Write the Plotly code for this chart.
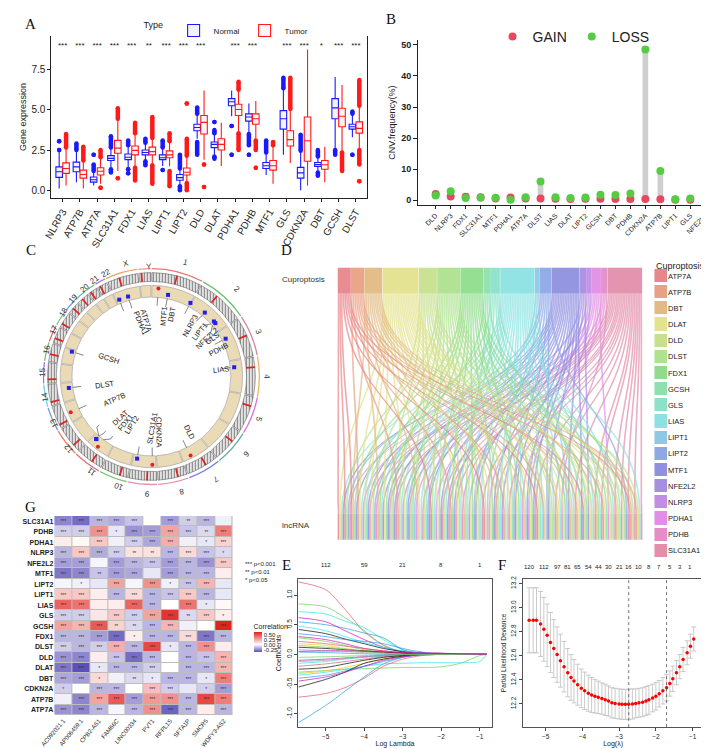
import math
import plotly.graph_objects as go

W, H = 709, 749


def fx(px):
    return px / W


def fy(py):
    return 1 - py / H


def rgba(hex_color, alpha):
    h = hex_color.lstrip("#")
    return "rgba({},{},{},{})".format(int(h[0:2], 16), int(h[2:4], 16), int(h[4:6], 16), alpha)


# ---------------- A: expression of cuproptosis genes, normal vs tumor
genes_a = ["NLRP3", "ATP7B", "ATP7A", "SLC31A1", "FDX1", "LIAS", "LIPT1", "LIPT2", "DLD", "DLAT",
           "PDHA1", "PDHB", "MTF1", "GLS", "CDKN2A", "DBT", "GCSH", "DLST"]
sig_a = ["***", "***", "***", "***", "***", "**", "***", "***", "***", "", "***", "***", "", "***",
         "***", "*", "***", "***"]

norm_lf = [0.1, 0.5, 0.3, 1.4, 1.4, 1.9, 1.5, 0.3, 3.2, 2.2, 4.6, 3.6, 0.95, 2.2, 0.0, 1.2, 2.6, 3.3]
norm_q1 = [0.8, 1.15, 0.5, 1.85, 1.9, 2.2, 1.9, 0.62, 3.7, 2.65, 5.25, 4.3, 1.35, 3.8, 0.75, 1.48, 4.45, 3.8]
norm_med = [1.15, 1.45, 0.65, 1.98, 2.05, 2.35, 2.02, 0.78, 3.9, 2.85, 5.5, 4.55, 1.52, 4.45, 1.08, 1.6, 5.12, 3.95]
norm_q3 = [1.45, 1.75, 0.82, 2.15, 2.25, 2.5, 2.2, 0.98, 4.1, 3.0, 5.7, 4.75, 1.72, 4.95, 1.42, 1.72, 5.7, 4.1]
norm_uf = [2.4, 2.4, 1.1, 2.6, 2.75, 2.9, 2.6, 1.3, 4.7, 3.5, 6.2, 5.4, 2.3, 6.3, 2.4, 2.05, 7.05, 4.7]

tum_lf = [0.3, 0.1, 0.4, 1.2, 1.5, 1.6, 1.5, 0.5, 1.9, 1.5, 3.6, 3.2, 0.4, 1.7, 0.3, 0.5, 2.4, 2.6]
tum_q1 = [1.05, 0.75, 0.95, 2.3, 2.2, 2.2, 2.02, 0.95, 3.5, 2.5, 4.65, 4.1, 1.25, 2.75, 1.8, 1.3, 3.95, 3.55]
tum_med = [1.35, 0.98, 1.18, 2.62, 2.48, 2.4, 2.2, 1.12, 4.22, 2.85, 5.02, 4.45, 1.52, 3.15, 3.08, 1.58, 4.6, 3.85]
tum_q3 = [1.7, 1.25, 1.4, 3.1, 2.75, 2.68, 2.45, 1.38, 4.65, 3.2, 5.35, 4.75, 1.85, 3.7, 4.55, 1.85, 5.1, 4.25]
tum_uf = [2.6, 1.8, 2.0, 4.4, 3.5, 3.2, 3.0, 2.1, 6.2, 4.2, 6.2, 5.55, 2.75, 5.0, 8.75, 2.7, 6.55, 5.2]

# outliers as (low, high) runs of dots; a single dot when low == high
norm_out = [
    [(2.5, 2.5), (3.05, 3.05)], [(2.5, 2.9)], [(1.2, 1.6), (2.2, 2.2)], [(2.65, 3.35), (1.1, 1.3)],
    [(2.8, 3.1), (1.05, 1.05), (1.3, 1.3)], [(2.95, 3.2), (1.55, 1.8)], [(2.65, 3.1), (1.25, 1.25)],
    [(1.35, 2.2), (0.0, 0.25)], [(4.75, 5.15), (2.2, 3.0)], [(3.55, 3.75), (4.25, 4.25), (1.95, 2.1)],
    [(4.0, 4.0), (2.2, 2.2)], [(2.8, 3.5), (2.2, 2.2)], [(2.35, 3.1)], [(6.35, 7.0)], [(2.45, 3.45)],
    [(2.1, 2.5), (0.9, 1.1)], [(2.2, 2.5)], [(4.75, 4.9), (2.2, 2.2)],
]
tum_out = [
    [(2.65, 3.5)], [(1.85, 2.7)], [(2.05, 2.5), (0.15, 0.15)], [(4.45, 5.1), (0.75, 0.75)],
    [(3.55, 4.2), (0.6, 1.4)], [(3.25, 4.55), (0.4, 1.55)], [(3.05, 3.55), (0.25, 1.2)],
    [(2.15, 3.2), (5.4, 5.4), (0.0, 0.45)], [(1.6, 1.6), (0.2, 0.2)], [],
    [(6.25, 6.75), (2.5, 3.55)], [(2.5, 3.1), (1.4, 1.4)], [(2.8, 3.0)], [(5.05, 7.0)], [], [],
    [(1.2, 2.35)], [(5.25, 6.85), (0.55, 0.55), (1.6, 2.5)],
]

# ---------------- B: CNV frequency
genes_b = ["DLD", "NLRP3", "FDX1", "SLC31A1", "MTF1", "PDHA1", "ATP7A", "DLST", "LIAS", "DLAT",
           "LIPT2", "GCSH", "DBT", "PDHB", "CDKN2A", "ATP7B", "LIPT1", "GLS", "NFE2L2"]
cnv_gain = [2.0, 1.2, 1.1, 1.0, 0.6, 0.9, 0.6, 0.6, 0.5, 0.4, 0.5, 0.5, 0.4, 0.4, 0.4, 0.3, 0.2, 0.2, 0.2]
cnv_loss = [1.5, 2.9, 0.7, 0.8, 0.8, 0.2, 1.0, 6.0, 1.0, 0.7, 0.9, 1.8, 1.7, 2.2, 48.5, 9.4, 0.3, 0.6, 0.8]

# ---------------- C: chromosome locations (hg19, Mb)
chroms = [str(i) for i in range(1, 23)] + ["X", "Y"]
chrom_len = [249.3, 243.2, 198.0, 191.2, 180.9, 171.1, 159.1, 146.4, 141.2, 135.5, 135.0, 133.9,
             115.2, 107.3, 102.5, 90.4, 81.2, 78.1, 59.1, 63.0, 48.1, 51.3, 155.3, 59.4]
centromere_mb = [125.0, 93.3, 91.0, 50.4, 48.4, 61.0, 59.9, 45.6, 49.0, 40.2, 53.7, 35.8, 17.9, 17.6,
                 19.0, 36.6, 24.0, 17.2, 26.5, 27.5, 13.2, 14.7, 60.6, 12.5]
chrom_colors = ["#e8787a", "#6fbf73", "#d3869b", "#f0b060", "#e070e0", "#5fb0a0", "#6f7fe0", "#e88aa0",
                "#e090b0", "#70c070", "#e07080", "#f08060", "#7090e0", "#70d0e0", "#b070e0", "#70c070",
                "#e06060", "#80c080", "#70a0e0", "#60c0b0", "#70c070", "#a070e0", "#f0a060", "#e0a0a0"]
genes_c = ["MTF1", "DBT", "NLRP3", "LIPT1", "NFE2L2", "GLS", "PDHB", "LIAS", "DLD", "CDKN2A", "SLC31A1",
           "LIPT2", "FDX1", "DLAT", "ATP7B", "DLST", "GCSH", "PDHA1", "ATP7A"]
gene_chr = ["1", "1", "1", "2", "2", "2", "3", "4", "7", "9", "9", "11", "11", "11", "13", "14", "16", "X", "X"]
gene_mb = [38.3, 100.7, 247.6, 99.8, 178.1, 191.7, 58.4, 39.5, 107.5, 21.9, 115.9, 74.2, 110.3, 111.9,
           52.5, 75.3, 81.1, 19.4, 77.2]
gene_cnv = ["gain", "loss", "loss", "loss", "loss", "loss", "loss", "loss", "gain", "gain", "loss",
            "gain", "loss", "loss", "gain", "loss", "loss", "loss", "loss"]

# ---------------- D: cuproptosis gene -> lncRNA co-expression links
cup_genes = ["ATP7A", "ATP7B", "DBT", "DLAT", "DLD", "DLST", "FDX1", "GCSH", "GLS", "LIAS", "LIPT1",
             "LIPT2", "MTF1", "NFE2L2", "NLRP3", "PDHA1", "PDHB", "SLC31A1"]
cup_colors = ["#E8868B", "#E8A185", "#E2BA84", "#E3E28E", "#C6E08E", "#AEE28E", "#8FDD8C", "#8EE0AE",
              "#8CE2C8", "#8CE2E2", "#8EC8E6", "#8EA8E6", "#8E90E0", "#A68EE0", "#C08EE6", "#E38EE6",
              "#E38EC8", "#E38EAA"]
cup_targets = [
    [0, 1, 2, 14, 22, 30, 37, 44],
    [3, 9, 17, 25, 31, 36, 40, 45],
    [2, 6, 12, 19, 24, 28, 33, 35, 39, 42, 44],
    [0, 3, 5, 7, 10, 12, 15, 18, 20, 21, 23, 26, 27, 29, 31, 33, 34, 36, 38, 40, 41, 43],
    [4, 8, 13, 16, 22, 25, 30, 32, 37, 42, 45],
    [1, 5, 9, 11, 14, 18, 21, 24, 28, 32, 35, 38, 41, 44],
    [2, 6, 8, 11, 15, 17, 20, 23, 27, 29, 34, 37, 39, 43],
    [7, 19, 26, 40],
    [4, 13, 18, 30, 36, 42],
    [0, 3, 6, 9, 10, 12, 14, 16, 19, 21, 24, 25, 27, 30, 32, 33, 35, 38, 39, 41, 45],
    [11, 22, 34],
    [1, 5, 13, 20, 26, 31, 43],
    [0, 2, 4, 7, 8, 10, 13, 15, 17, 20, 23, 26, 28, 29, 31, 34, 36],
    [6, 16, 24, 37],
    [9, 19, 28],
    [3, 11, 14, 22, 27, 40],
    [5, 12, 18, 33],
    [1, 4, 7, 8, 10, 15, 16, 17, 21, 23, 25, 29, 32, 35, 38, 39, 41, 42, 43, 44, 45],
]

# ---------------- G: correlation heatmap
rows_g = ["SLC31A1", "PDHB", "PDHA1", "NLRP3", "NFE2L2", "MTF1", "LIPT2", "LIPT1", "LIAS", "GLS",
          "GCSH", "FDX1", "DLST", "DLD", "DLAT", "DBT", "CDKN2A", "ATP7B", "ATP7A"]
cols_g = ["AC092021.1", "AP006459.1", "CPB2-AS1", "FAM66C", "LINC00334", "PVT1", "RFPL1S", "SFTA1P",
          "SMCR5", "WDFY3-AS2"]
corr_g = [
    [-0.25, -0.30, -0.15, -0.17, -0.12, 0.00, -0.20, -0.10, -0.15, -0.03],
    [-0.10, -0.10, 0.30, -0.05, -0.22, -0.20, 0.25, -0.12, -0.08, 0.35],
    [0.05, 0.02, 0.15, -0.03, -0.10, -0.18, 0.22, -0.03, -0.05, 0.12],
    [-0.15, 0.15, -0.17, -0.10, 0.08, 0.08, -0.15, 0.10, -0.12, -0.08],
    [-0.20, -0.20, -0.02, -0.20, -0.15, -0.12, -0.20, -0.15, -0.22, 0.15],
    [-0.28, -0.25, -0.12, -0.20, -0.18, -0.05, -0.20, -0.15, -0.15, 0.05],
    [-0.02, -0.03, -0.05, 0.25, -0.02, 0.30, -0.03, -0.12, 0.20, -0.05],
    [0.15, 0.15, 0.05, -0.15, 0.10, -0.15, -0.12, 0.15, -0.15, -0.05],
    [0.42, 0.38, 0.05, 0.05, 0.42, -0.15, 0.00, 0.38, -0.05, 0.02],
    [-0.10, -0.10, 0.07, 0.15, -0.10, 0.25, 0.55, -0.08, 0.15, 0.05],
    [0.25, 0.20, 0.45, 0.12, -0.08, -0.15, 0.20, -0.03, 0.00, 0.60],
    [-0.15, -0.15, -0.20, -0.30, 0.05, -0.15, -0.15, 0.10, -0.28, -0.15],
    [-0.10, -0.15, -0.10, 0.22, -0.15, 0.50, -0.05, -0.15, 0.30, 0.05],
    [-0.22, -0.25, 0.05, -0.12, -0.30, -0.15, 0.00, -0.15, -0.12, 0.20],
    [-0.28, -0.38, -0.05, -0.15, -0.15, -0.10, 0.00, -0.15, -0.15, 0.20],
    [-0.18, -0.20, 0.10, -0.03, -0.08, -0.05, -0.15, -0.15, -0.05, 0.35],
    [-0.10, 0.00, -0.15, -0.15, 0.00, 0.18, -0.10, -0.05, -0.10, -0.20],
    [-0.03, -0.25, 0.25, 0.45, -0.20, 0.28, 0.30, -0.15, 0.50, 0.35],
    [-0.22, -0.25, -0.15, -0.02, -0.15, 0.30, -0.32, -0.15, 0.05, -0.15],
]
stars_g = [
    ["***", "***", "***", "***", "***", "", "***", "**", "***", ""],
    ["***", "***", "***", "*", "***", "***", "***", "***", "**", "***"],
    ["", "", "***", "", "***", "***", "***", "", "*", "***"],
    ["***", "***", "***", "***", "**", "**", "***", "***", "***", "*"],
    ["***", "***", "", "***", "***", "***", "***", "***", "***", "***"],
    ["***", "***", "**", "***", "***", "", "***", "***", "***", ""],
    ["", "*", "", "***", "", "***", "*", "***", "***", ""],
    ["***", "***", "", "***", "***", "***", "***", "***", "***", ""],
    ["***", "***", "", "", "***", "***", "", "***", "*", ""],
    ["***", "***", "", "***", "***", "***", "***", "**", "***", "*"],
    ["***", "***", "***", "**", "**", "***", "***", "", "", "***"],
    ["***", "***", "***", "***", "*", "***", "***", "***", "***", "***"],
    ["***", "***", "***", "***", "***", "***", "*", "***", "***", ""],
    ["***", "***", "", "***", "***", "***", "", "***", "***", "***"],
    ["***", "***", "*", "***", "***", "***", "", "***", "***", "***"],
    ["***", "***", "*", "", "**", "*", "***", "***", "*", "***"],
    ["*", "", "***", "***", "", "***", "***", "", "*", "***"],
    ["", "***", "***", "***", "***", "***", "***", "***", "***", "***"],
    ["***", "***", "***", "", "***", "***", "***", "***", "", "***"],
]

# ---------------- E: LASSO coefficient paths
lasso_lambda = [-5.71, -5.0, -4.5, -4.0, -3.5, -3.0, -2.5, -2.0, -1.5, -1.0, -0.82]
lasso_df_pos = [-5, -4, -3, -2, -1]
lasso_df = [112, 59, 21, 8, 1]
lasso_colors = ["#DF536B", "#61D04F", "#28E2E5", "#2297E6", "#CD0BBC", "#000000", "#28E2E5", "#2297E6",
                "#CD0BBC", "#61D04F", "#DF536B", "#F5C710", "#000000", "#9E9E9E", "#2297E6", "#61D04F",
                "#CD0BBC", "#28E2E5", "#DF536B", "#000000", "#61D04F", "#28E2E5", "#2297E6", "#F5C710",
                "#000000", "#DF536B", "#2297E6", "#CD0BBC", "#9E9E9E", "#61D04F", "#CD0BBC"]
lasso_paths = [
    [1.22, 1.09, 0.76, 0.38, 0.16, 0.03, 0, 0, 0, 0, 0],
    [0.85, 0.80, 0.62, 0.40, 0.15, 0.04, 0.01, 0, 0, 0, 0],
    [0.72, 0.68, 0.56, 0.45, 0.25, 0.08, 0.02, 0, 0, 0, 0],
    [0.55, 0.50, 0.44, 0.36, 0.28, 0.08, 0, 0, 0, 0, 0],
    [0.62, 0.55, 0.40, 0.25, 0.12, 0.05, 0.03, 0.02, 0, 0, 0],
    [0.42, 0.35, 0.26, 0.18, 0.10, 0.05, 0.02, 0, 0, 0, 0],
    [0.48, 0.40, 0.30, 0.20, 0.12, 0.06, 0.02, 0, 0, 0, 0],
    [0.35, 0.30, 0.25, 0.22, 0.18, 0.10, 0.04, 0, 0, 0, 0],
    [0.30, 0.25, 0.18, 0.10, 0.06, 0.03, 0.02, 0.01, 0, 0, 0],
    [0.28, 0.22, 0.15, 0.08, 0.04, 0.02, 0, 0, 0, 0, 0],
    [0.22, 0.18, 0.14, 0.10, 0.06, 0.03, 0, 0, 0, 0, 0],
    [0.18, 0.15, 0.10, 0.06, 0.03, 0.01, 0, 0, 0, 0, 0],
    [0.12, 0.10, 0.08, 0.06, 0.04, 0.02, 0, 0, 0, 0, 0],
    [0.08, 0.06, 0.05, 0.03, 0.02, 0, 0, 0, 0, 0, 0],
    [0.04, 0.03, 0.02, 0.01, 0, 0, 0, 0, 0, 0, 0],
    [-0.05, -0.04, -0.03, -0.02, -0.01, 0, 0, 0, 0, 0, 0],
    [-0.10, -0.08, -0.06, -0.04, -0.02, 0, 0, 0, 0, 0, 0],
    [-0.15, -0.12, -0.08, -0.05, -0.03, -0.01, 0, 0, 0, 0, 0],
    [-0.20, -0.16, -0.12, -0.08, -0.04, -0.02, 0, 0, 0, 0, 0],
    [-0.25, -0.22, -0.16, -0.10, -0.05, -0.02, 0, 0, 0, 0, 0],
    [-0.30, -0.27, -0.25, -0.24, -0.23, -0.22, -0.22, -0.21, -0.15, -0.02, 0],
    [-0.35, -0.30, -0.25, -0.20, -0.16, -0.15, -0.14, -0.14, -0.14, -0.12, 0],
    [-0.40, -0.35, -0.28, -0.20, -0.12, -0.05, 0, 0, 0, 0, 0],
    [-0.32, -0.28, -0.22, -0.15, -0.08, -0.03, 0, 0, 0, 0, 0],
    [-0.55, -0.42, -0.30, -0.15, -0.08, -0.03, 0, 0, 0, 0, 0],
    [-0.72, -0.66, -0.56, -0.40, -0.20, -0.08, -0.02, 0, 0, 0, 0],
    [-1.15, -0.86, -0.62, -0.38, -0.16, -0.05, 0, 0, 0, 0, 0],
    [-0.45, -0.38, -0.30, -0.20, -0.10, -0.04, -0.01, 0, 0, 0, 0],
    [-0.12, -0.10, -0.07, -0.04, -0.02, 0, 0, 0, 0, 0, 0],
    [0.15, 0.12, 0.09, 0.05, 0.02, 0, 0, 0, 0, 0, 0],
    [0.05, 0.06, 0.06, 0.05, 0.04, 0.03, 0.02, 0.02, 0.01, 0, 0],
]

# ---------------- F: cross-validation partial likelihood deviance
cv_lambda = [-5.45, -5.34, -5.25, -5.14, -5.05, -4.96, -4.87, -4.78, -4.69, -4.60, -4.50, -4.40, -4.31,
             -4.23, -4.13, -4.03, -3.94, -3.84, -3.75, -3.66, -3.57, -3.47, -3.38, -3.29, -3.20, -3.11,
             -3.00, -2.92, -2.83, -2.74, -2.64, -2.55, -2.46, -2.36, -2.27, -2.19, -2.09, -2.00, -1.91,
             -1.81, -1.71, -1.62, -1.54, -1.44, -1.35, -1.26, -1.15, -1.06, -0.97]
cv_dev = [12.895, 12.895, 12.895, 12.865, 12.82, 12.77, 12.71, 12.66, 12.61, 12.56, 12.51, 12.46, 12.42,
          12.39, 12.36, 12.33, 12.31, 12.29, 12.275, 12.265, 12.255, 12.245, 12.235, 12.225, 12.21, 12.205,
          12.20, 12.198, 12.197, 12.197, 12.20, 12.205, 12.21, 12.215, 12.225, 12.235, 12.25, 12.265,
          12.285, 12.31, 12.335, 12.37, 12.41, 12.46, 12.51, 12.57, 12.625, 12.68, 12.74]
cv_se = [0.27, 0.27, 0.27, 0.27, 0.265, 0.26, 0.25, 0.24, 0.23, 0.22, 0.21, 0.20, 0.19, 0.18, 0.17, 0.16,
         0.155, 0.15, 0.145, 0.14, 0.135, 0.13, 0.13, 0.125, 0.125, 0.125, 0.125, 0.125, 0.125, 0.125,
         0.125, 0.12, 0.12, 0.12, 0.12, 0.12, 0.115, 0.115, 0.11, 0.11, 0.11, 0.105, 0.105, 0.10, 0.10,
         0.10, 0.10, 0.10, 0.10]
cv_nzero_pos = [-5.45, -5.05, -4.69, -4.40, -4.13, -3.84, -3.57, -3.29, -3.00, -2.74, -2.46, -2.19, -1.91,
                -1.62, -1.35, -1.06]
cv_nzero = [120, 112, 97, 81, 65, 54, 44, 30, 21, 16, 10, 8, 7, 5, 3, 1]
lambda_min = -2.74
lambda_1se = -1.71

FONT = "Liberation Sans"
SERIF = "Liberation Serif"

fig = go.Figure()

# ======================= A
for name, offs, lf, q1, med, q3, uf, outs, col in [
        ("Normal", -0.2, norm_lf, norm_q1, norm_med, norm_q3, norm_uf, norm_out, "#1a1aff"),
        ("Tumor", 0.2, tum_lf, tum_q1, tum_med, tum_q3, tum_uf, tum_out, "#ff1a1a")]:
    xs = [i + offs for i in range(len(genes_a))]
    fig.add_trace(go.Box(
        x=xs, q1=q1, median=med, q3=q3, lowerfence=lf, upperfence=uf, name=name,
        width=0.38, whiskerwidth=0, boxpoints=False, line=dict(color=col, width=1.1),
        fillcolor=rgba(col, 0.05), xaxis="x", yaxis="y", legend="legend", hoverinfo="skip"))
    lx, ly, mx, my = [], [], [], []
    for x, segs in zip(xs, outs):
        for lo, hi in segs:
            mx += [x, x]
            my += [lo, hi]
            if hi > lo:
                lx += [x, x, None]
                ly += [lo, hi, None]
    fig.add_trace(go.Scatter(x=lx, y=ly, mode="lines", line=dict(color=col, width=4.5),
                             showlegend=False, xaxis="x", yaxis="y", hoverinfo="skip"))
    fig.add_trace(go.Scatter(x=mx, y=my, mode="markers", marker=dict(color=col, size=4.5),
                             showlegend=False, xaxis="x", yaxis="y", hoverinfo="skip"))

fig.add_trace(go.Scatter(x=list(range(len(genes_a))), y=[9.0] * len(genes_a), text=sig_a, mode="text",
                         textfont=dict(size=8, color="#222"), showlegend=False, xaxis="x", yaxis="y"))

# ======================= B
idx_b = list(range(len(genes_b)))
fig.add_trace(go.Bar(x=idx_b, y=[abs(g - l) for g, l in zip(cnv_gain, cnv_loss)],
                     base=[min(g, l) for g, l in zip(cnv_gain, cnv_loss)], width=0.38,
                     marker=dict(color="#cfcfcf", line=dict(width=0)), showlegend=False,
                     xaxis="x2", yaxis="y2", hoverinfo="skip"))
fig.add_trace(go.Scatter(x=idx_b, y=cnv_gain, mode="markers", name="GAIN",
                         marker=dict(color="#E5485F", size=8), xaxis="x2", yaxis="y2", legend="legend2"))
fig.add_trace(go.Scatter(x=idx_b, y=cnv_loss, mode="markers", name="LOSS",
                         marker=dict(color="#55CC44", size=8), xaxis="x2", yaxis="y2", legend="legend2"))

# ======================= C  (circos-like ring)
C_CX, C_CY, C_R = 132, 367, 125
GAP = 0.6
deg_per_mb = (360 - GAP * len(chroms)) / sum(chrom_len)
chr_start = {}
acc = GAP / 2
for c, L in zip(chroms, chrom_len):
    chr_start[c] = acc
    acc += L * deg_per_mb + GAP
chr_mid = [chr_start[c] + L * deg_per_mb / 2 for c, L in zip(chroms, chrom_len)]
chr_width = [L * deg_per_mb for L in chrom_len]
n_chr = len(chroms)

fig.add_trace(go.Barpolar(theta=chr_mid, width=chr_width, r=[12] * n_chr, base=[81] * n_chr,
                          marker=dict(color="#ebdab6", line=dict(color="#9a9a9a", width=0.6)),
                          subplot="polar", showlegend=False, hoverinfo="skip"))
fig.add_trace(go.Barpolar(theta=chr_mid, width=chr_width, r=[9] * n_chr, base=[97] * n_chr,
                          marker=dict(color="#d8d8d8", line=dict(color="#555", width=0.5),
                                      pattern=dict(shape="|", fgcolor="#1e1e1e", bgcolor="#ececec",
                                                   size=3, solidity=0.4)),
                          subplot="polar", showlegend=False, hoverinfo="skip"))
fig.add_trace(go.Barpolar(theta=[chr_start[c] + m * deg_per_mb for c, m in zip(chroms, centromere_mb)],
                          width=[1.0] * n_chr, r=[9] * n_chr, base=[97] * n_chr,
                          marker=dict(color="#e02424", line=dict(width=0)),
                          subplot="polar", showlegend=False, hoverinfo="skip"))
fig.add_trace(go.Barpolar(theta=chr_mid, width=chr_width, r=[1.3] * n_chr, base=[109.5] * n_chr,
                          marker=dict(color=chrom_colors, line=dict(width=0)),
                          subplot="polar", showlegend=False, hoverinfo="skip"))


def polar_px(r, theta):
    t = math.radians(theta)
    return C_CX + r * math.sin(t), C_CY - r * math.cos(t)


def spread(angles, gap):
    order = sorted(range(len(angles)), key=lambda i: angles[i])
    a = [angles[i] for i in order]
    for _ in range(200):
        for k in range(1, len(a)):
            d = a[k] - a[k - 1]
            if d < gap:
                a[k - 1] -= (gap - d) / 2
                a[k] += (gap - d) / 2
    out = [0.0] * len(angles)
    for k, i in enumerate(order):
        out[i] = a[k]
    return out


gene_theta = [chr_start[c] + m * deg_per_mb for c, m in zip(gene_chr, gene_mb)]
label_theta = spread(gene_theta, 7.0)

conn_r, conn_t = [], []
for gt, lt in zip(gene_theta, label_theta):
    conn_r += [81, 76, 72.5, None]
    conn_t += [gt, lt, lt, None]
fig.add_trace(go.Scatterpolar(r=conn_r, theta=conn_t, mode="lines", line=dict(color="#333", width=0.6),
                              subplot="polar", showlegend=False, hoverinfo="skip"))
for kind, col, sym, rr in [("loss", "#2020e8", "square", 85), ("gain", "#e82020", "circle", 90)]:
    th = [t for t, k in zip(gene_theta, gene_cnv) if k == kind]
    fig.add_trace(go.Scatterpolar(r=[rr] * len(th), theta=th, mode="markers",
                                  marker=dict(color=col, size=4, symbol=sym),
                                  subplot="polar", showlegend=False, hoverinfo="skip"))

for name, lt in zip(genes_c, label_theta):
    rc = 71 - 2.6 * len(name)
    px, py = polar_px(rc, lt)
    ang = lt - 90 if lt < 180 else lt - 270
    fig.add_annotation(x=fx(px), y=fy(py), xref="paper", yref="paper", text=name, showarrow=False,
                       textangle=ang, font=dict(family=FONT, size=7.5, color="#222"))

for c, m in zip(chroms, chr_mid):
    px, py = polar_px(118, m)
    ang = m if m <= 180 else m - 360
    fig.add_annotation(x=fx(px), y=fy(py), xref="paper", yref="paper", text=c, showarrow=False,
                       textangle=ang, font=dict(family=FONT, size=8, color="#333"))

# ======================= D  (alluvial, flowing top -> bottom)
D_X0, D_X1, D_Y0, D_Y1 = 322, 628, 258, 535
D_W, D_H = D_X1 - D_X0, D_Y1 - D_Y0
D_THICK = 26
pairs = sorted((t, g) for g, ts in enumerate(cup_targets) for t in ts)
total = len(pairs)
counts = [len(ts) for ts in cup_targets]
top_frac = []
cum = 0
for n in counts:
    top_frac.append((cum + n / 2) / total)
    cum += n
bot_frac = [(j + 0.5) / total for j in range(total)]
n_top = len(cup_genes)
# plotly scales forced node positions by (width, height) even in vertical mode
node_x = [(D_THICK / 2) / D_W] * n_top + [(D_H - D_THICK / 2) / D_W] * total
node_y = [f * D_W / D_H for f in top_frac + bot_frac]
node_col = [rgba(c, 0.95) for c in cup_colors] + [rgba(cup_colors[g], 0.85) for _, g in pairs]
fig.add_trace(go.Sankey(
    domain=dict(x=[fx(D_X0), fx(D_X1)], y=[fy(D_Y1), fy(D_Y0)]),
    orientation="v", arrangement="fixed",
    node=dict(pad=0, thickness=D_THICK, label=[""] * (n_top + total), color=node_col,
              x=node_x, y=node_y, line=dict(width=0)),
    link=dict(source=[g for _, g in pairs], target=[n_top + j for j in range(total)],
              value=[1] * total, color=[rgba(cup_colors[g], 0.7) for _, g in pairs]),
    hoverinfo="none"))

# legend of D drawn as a one-column heatmap
fig.add_trace(go.Heatmap(z=[[i] for i in range(n_top)], y=cup_genes, x=[0], zmin=0, zmax=n_top - 1,
                         colorscale=[[i / (n_top - 1), c] for i, c in enumerate(cup_colors)],
                         showscale=False, ygap=3, xaxis="x3", yaxis="y3", hoverinfo="skip"))

# ======================= G
fig.add_trace(go.Heatmap(z=corr_g, x=cols_g, y=rows_g, text=stars_g, texttemplate="%{text}",
                         textfont=dict(size=5, color="#333"), zmin=-0.36, zmax=0.6, xgap=1, ygap=1,
                         colorscale=[[0, "#5b4fb8"], [0.375, "#ffffff"], [1, "#e3221c"]],
                         colorbar=dict(x=fx(226), xanchor="left", y=fy(628), yanchor="middle",
                                       lenmode="pixels", len=52, thickness=8, outlinewidth=0,
                                       tickvals=[-0.25, 0, 0.25, 0.5],
                                       ticktext=["-0.25", "0.00", "0.25", "0.50"],
                                       tickfont=dict(size=6, family=FONT), ticks="",
                                       title=dict(text="Correlation", side="top",
                                                  font=dict(size=7, family=FONT))),
                         xaxis="x4", yaxis="y4", hoverinfo="skip"))

# ======================= E
for col, vals in zip(lasso_colors, lasso_paths):
    fig.add_trace(go.Scatter(x=lasso_lambda, y=vals, mode="lines",
                             line=dict(color=col, width=0.8, shape="spline", smoothing=0.8),
                             opacity=0.85, showlegend=False, xaxis="x5", yaxis="y5", hoverinfo="skip"))
for pos, n in zip(lasso_df_pos, lasso_df):
    fig.add_annotation(x=pos, y=fy(561), xref="x5", yref="paper", text=str(n), showarrow=False,
                       font=dict(size=6, family=FONT, color="#222"))

# ======================= F
fig.add_trace(go.Scatter(x=cv_lambda, y=cv_dev, mode="markers",
                         error_y=dict(type="data", array=cv_se, color="#bdbdbd", thickness=0.8, width=2.5),
                         marker=dict(color="#ff0000", size=3.5), showlegend=False,
                         xaxis="x6", yaxis="y6", hoverinfo="skip"))
for xv in (lambda_min, lambda_1se):
    fig.add_shape(type="line", xref="x6", yref="y6 domain", x0=xv, x1=xv, y0=0, y1=1,
                  line=dict(color="#555", width=0.8, dash="dot"))
for pos, n in zip(cv_nzero_pos, cv_nzero):
    fig.add_annotation(x=pos, y=fy(563), xref="x6", yref="paper", text=str(n), showarrow=False,
                       font=dict(size=6, family=FONT, color="#222"))

# heatmap G cell borders
fig.add_shape(type="rect", xref="x4", yref="y4", x0=-0.5, x1=len(cols_g) - 0.5, y0=-0.5,
              y1=len(rows_g) - 0.5, fillcolor="#bdbdbd", line=dict(width=0), layer="below")

# ---------------- annotations: panel letters and free labels
for letter, px, py in [("A", 9, 13), ("B", 376, 8), ("C", 9, 240), ("D", 270, 240), ("G", 9, 498),
                       ("E", 270, 556), ("F", 490, 556)]:
    fig.add_annotation(x=fx(px), y=fy(py), xref="paper", yref="paper", text=letter, showarrow=False,
                       xanchor="center", yanchor="middle", font=dict(family=SERIF, size=15, color="#111"))
fig.add_annotation(x=fx(263), y=fy(270), xref="paper", yref="paper", text="Cuproptosis", showarrow=False,
                   xanchor="left", font=dict(family=FONT, size=8, color="#333"))
fig.add_annotation(x=fx(263), y=fy(523), xref="paper", yref="paper", text="lncRNA", showarrow=False,
                   xanchor="left", font=dict(family=FONT, size=8, color="#333"))
fig.add_annotation(x=fx(645), y=fy(249), xref="paper", yref="paper", text="Cuproptosis", showarrow=False,
                   xanchor="left", font=dict(family=FONT, size=9, color="#222"))
fig.add_annotation(x=fx(225), y=fy(576), xref="paper", yref="paper",
                   text="*** p<0.001<br>** p<0.01<br>* p<0.05", showarrow=False, align="left",
                   xanchor="left", font=dict(family=FONT, size=6, color="#222"))

axis_common = dict(showgrid=False, zeroline=False, linecolor="#222", tickcolor="#222")
r_frame = dict(showline=True, mirror=True, linecolor="#555", ticks="outside", ticklen=3, tickwidth=0.8,
               showgrid=False, zeroline=False, tickfont=dict(family=FONT, size=6.5, color="#222"))

fig.update_layout(
    width=W, height=H, margin=dict(l=0, r=0, t=0, b=0),
    paper_bgcolor="white", plot_bgcolor="white",
    font=dict(family=FONT, color="#222"),
    showlegend=True,
    legend=dict(title=dict(text="Type ", side="left", font=dict(size=9)), orientation="h",
                x=fx(122), y=fy(5), xanchor="left", yanchor="top", font=dict(size=8),
                bgcolor="rgba(0,0,0,0)", itemwidth=30),
    legend2=dict(orientation="h", x=fx(480), y=fy(26), xanchor="left", yanchor="middle",
                 font=dict(size=14), bgcolor="rgba(0,0,0,0)"),
    xaxis=dict(domain=[fx(30), fx(352)], range=[-0.65, 17.65], tickvals=list(range(len(genes_a))),
               ticktext=genes_a, tickangle=-60, showline=True, ticks="outside", ticklen=3,
               anchor="y", tickfont=dict(family=FONT, size=10, color="#222"), **axis_common),
    yaxis=dict(domain=[fy(188), fy(25)], range=[-0.5, 9.6], tickvals=[0, 2.5, 5, 7.5],
               ticktext=["0.0", "2.5", "5.0", "7.5"], showline=True, mirror=True, ticks="outside",
               ticklen=3, anchor="x", title=dict(text="Gene expression", font=dict(size=9), standoff=3),
               tickfont=dict(family=FONT, size=10, color="#222"), **axis_common),
    xaxis2=dict(domain=[fx(404), fx(705)], range=[-1.18, 18.52], tickvals=idx_b, ticktext=genes_b,
                tickangle=-45, showline=True, ticks="outside", ticklen=3, anchor="y2",
                tickfont=dict(family=FONT, size=7, color="#222"), **axis_common),
    yaxis2=dict(domain=[fy(194.7), fy(29.3)], range=[-1.5, 51.5], tickvals=[0, 10, 20, 30, 40, 50],
                showline=True, ticks="outside", ticklen=4, anchor="x2",
                title=dict(text="CNV.frequency(%)", font=dict(size=9), standoff=4),
                tickfont=dict(family=FONT, size=9, color="#222", weight="bold"), **axis_common),
    xaxis3=dict(domain=[fx(645), fx(658)], visible=False, anchor="y3"),
    yaxis3=dict(domain=[fy(550), fy(258)], autorange="reversed", side="right", anchor="x3", ticks="",
                showline=False, tickfont=dict(family=FONT, size=7.5, color="#222"), **axis_common),
    xaxis4=dict(domain=[fx(33), fx(215)], tickangle=-50, anchor="y4", ticks="", showline=False,
                tickfont=dict(family=FONT, size=6, color="#222"), **axis_common),
    yaxis4=dict(domain=[fy(707), fy(507)], autorange="reversed", anchor="x4", ticks="", showline=False,
                tickfont=dict(family=FONT, size=7, color="#222", weight="bold"), **axis_common),
    xaxis5=dict(domain=[fx(282), fx(479)], range=[-5.71, -0.69], tickvals=lasso_df_pos, anchor="y5",
                title=dict(text="Log Lambda", font=dict(size=7), standoff=1), **r_frame),
    yaxis5=dict(domain=[fy(719), fy(570)], range=[-1.225, 1.275], tickvals=[-1, -0.5, 0, 0.5, 1],
                ticktext=["-1.0", "-0.5", "0.0", "0.5", "1.0"], tickangle=-90, anchor="x5",
                title=dict(text="Coefficients", font=dict(size=7), standoff=3), **r_frame),
    xaxis6=dict(domain=[fx(511), fx(695)], range=[-5.62, -0.71], tickvals=[-5, -4, -3, -2, -1],
                anchor="y6", title=dict(text="Log(\u03bb)", font=dict(size=7), standoff=1), **r_frame),
    yaxis6=dict(domain=[fy(719), fy(570)], range=[12.008, 13.24], tickvals=[12.2, 12.4, 12.6, 12.8, 13.0, 13.2],
                ticktext=["12.2", "12.4", "12.6", "12.8", "13.0", "13.2"], tickangle=-90, anchor="x6",
                title=dict(text="Partial Likelihood Deviance", font=dict(size=6.5), standoff=3), **r_frame),
    polar=dict(domain=dict(x=[fx(C_CX - C_R), fx(C_CX + C_R)], y=[fy(C_CY + C_R), fy(C_CY - C_R)]),
               bgcolor="rgba(0,0,0,0)", barmode="overlay", hole=0,
               radialaxis=dict(range=[0, C_R], visible=False),
               angularaxis=dict(rotation=90, direction="clockwise", visible=False)),
)

fig.write_html("out.html")
